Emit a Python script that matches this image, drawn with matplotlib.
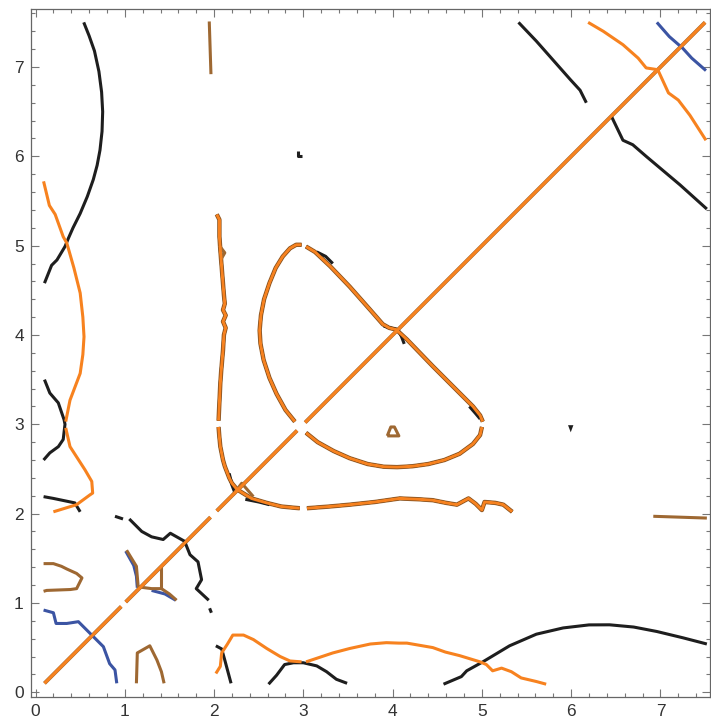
"""
Overlaid contour-like curves, four colours
"""

import numpy as np
import matplotlib.pyplot as plt
from matplotlib.ticker import MultipleLocator

BLACK = "#1e1e1e"
BLUE = "#3b54a3"
BROWN = "#9e6832"
ORANGE = "#f7821f"

# diagonal (all colours coincide, orange on top)
diag_x = [[0.1, 0.96], [1.01, 1.96], [2.03, 2.93], [3.02, 7.5]]
diag_y = [[0.1, 0.96], [1.01, 1.96], [2.03, 2.93], [3.02, 7.5]]

# black curves
black_x = [
    [0.54, 0.6, 0.66, 0.71, 0.74, 0.752, 0.745, 0.722, 0.69, 0.647, 0.58, 0.5, 0.42,
     0.367, 0.33, 0.24, 0.18, 0.1],
    [0.1, 0.16, 0.255, 0.32, 0.33, 0.31, 0.256, 0.16, 0.09],
    [0.09, 0.2, 0.44, 0.5],
    [0.89, 0.98],
    [1.05, 1.19, 1.3, 1.43, 1.51, 1.67, 1.73, 1.82, 1.86, 1.8, 1.94],
    [1.95, 1.97],
    [2.02, 2.085, 2.12, 2.19],
    [2.61, 2.7, 2.79, 2.89, 3.0, 3.15, 3.26, 3.37, 3.49],
    [4.57, 4.77, 4.83, 5.01, 5.31, 5.61, 5.91, 6.2, 6.43, 6.7, 6.96, 7.25, 7.52],
    [5.41, 5.61, 5.99, 6.1, 6.17],
    [6.45, 6.58, 6.69, 6.84, 7.22, 7.52],
    [2.94, 2.94, 2.985],
    [3.15, 3.25, 3.33],
    [3.9, 3.97, 4.06, 4.1, 4.13],
    [4.86, 4.93, 4.98],
    [2.17, 2.2, 2.23],
    [2.35, 2.5, 2.62],
]
black_y = [
    [7.5, 7.35, 7.18, 6.95, 6.72, 6.5, 6.28, 6.07, 5.9, 5.74, 5.55, 5.36, 5.2,
     5.08, 4.99, 4.84, 4.78, 4.58],
    [3.5, 3.35, 3.24, 3.05, 3.0, 2.83, 2.75, 2.68, 2.6],
    [2.19, 2.17, 2.12, 2.02],
    [1.97, 1.94],
    [1.94, 1.8, 1.74, 1.71, 1.78, 1.69, 1.54, 1.46, 1.26, 1.16, 1.03],
    [0.94, 0.89],
    [0.52, 0.485, 0.36, 0.1],
    [0.09, 0.19, 0.31, 0.33, 0.33, 0.295, 0.23, 0.145, 0.1],
    [0.09, 0.175, 0.24, 0.34, 0.52, 0.65, 0.72, 0.754, 0.755, 0.73, 0.68, 0.61, 0.54],
    [7.5, 7.29, 6.86, 6.74, 6.6],
    [6.45, 6.18, 6.13, 6.0, 5.68, 5.41],
    [6.06, 6.0, 6.0],
    [4.93, 4.88, 4.8],
    [4.1, 4.08, 4.06, 3.98, 3.9],
    [3.2, 3.12, 3.06],
    [2.45, 2.32, 2.24],
    [2.16, 2.13, 2.1],
]
tri_x = [5.965, 6.025, 5.995]
tri_y = [2.99, 2.99, 2.91]

# blue curves
blue_x = [
    [0.09, 0.2, 0.23, 0.35, 0.48, 0.57, 0.65, 0.76, 0.83, 0.89, 0.91],
    [6.96, 7.1, 7.25, 7.35, 7.51],
    [1.01, 1.1, 1.13, 1.14],
    [1.3, 1.45, 1.57],
]
blue_y = [
    [0.92, 0.89, 0.77, 0.77, 0.79, 0.7, 0.62, 0.51, 0.32, 0.25, 0.1],
    [7.5, 7.34, 7.21, 7.1, 6.96],
    [1.58, 1.42, 1.3, 1.17],
    [1.14, 1.1, 1.03],
]

# brown curves
brown_x = [
    [1.946, 1.965],
    [6.92, 7.52],
    [0.09, 0.2, 0.29, 0.35, 0.46, 0.52, 0.46, 0.39, 0.125, 0.09],
    [1.13, 1.14, 1.28, 1.36, 1.41, 1.44],
    [1.02, 1.13, 1.15, 1.3, 1.41, 1.5, 1.58],
    [1.41, 1.41],
    [3.94, 4.07, 4.02, 3.98, 3.94],
    [2.21, 2.31, 2.44],
    [2.06, 2.12, 2.08],
]
brown_y = [
    [7.51, 6.92],
    [1.97, 1.95],
    [1.44, 1.44, 1.41, 1.38, 1.33, 1.28, 1.16, 1.15, 1.14, 1.13],
    [0.1, 0.44, 0.52, 0.36, 0.23, 0.1],
    [1.59, 1.41, 1.18, 1.16, 1.16, 1.1, 1.03],
    [1.41, 1.16],
    [2.87, 2.87, 2.97, 2.97, 2.87],
    [2.21, 2.34, 2.19],
    [5.0, 4.92, 4.85],
]

# orange curves
orange_x = [
    [0.09, 0.155, 0.22, 0.31, 0.35, 0.43, 0.5, 0.53, 0.543, 0.53, 0.5, 0.386, 0.338],
    [0.338, 0.386, 0.47, 0.554, 0.63, 0.64, 0.61, 0.46, 0.2],
    [2.02, 2.07, 2.085, 2.15, 2.21, 2.33, 2.44, 2.59, 2.74, 2.85, 2.98],
    [3.03, 3.15, 3.33, 3.52, 3.75, 3.93, 4.07, 4.16, 4.45, 4.59, 4.75, 4.98, 5.05, 5.12,
     5.22, 5.33, 5.44, 5.61, 5.72],
    [6.19, 6.36, 6.58, 6.75, 6.84, 6.97, 7.09, 7.2, 7.33, 7.51],
]
orange_y = [
    [5.72, 5.45, 5.35, 5.1, 5.03, 4.75, 4.47, 4.2, 3.98, 3.78, 3.57, 3.27, 3.03],
    [2.96, 2.75, 2.62, 2.49, 2.36, 2.23, 2.21, 2.1, 2.02],
    [0.21, 0.29, 0.44, 0.54, 0.64, 0.64, 0.59, 0.49, 0.4, 0.35, 0.34],
    [0.34, 0.38, 0.44, 0.49, 0.54, 0.555, 0.55, 0.55, 0.5, 0.45, 0.41, 0.34, 0.31, 0.24,
     0.27, 0.23, 0.16, 0.12, 0.09],
    [7.5, 7.4, 7.25, 7.1, 6.99, 6.97, 6.71, 6.63, 6.46, 6.18],
]

# curves drawn in all colours on top of each other (loop and the x~2 branch)
shared_x = [
    [2.905, 2.8, 2.7, 2.62, 2.555, 2.52, 2.51, 2.525, 2.56, 2.62, 2.69, 2.77, 2.85,
     2.92, 2.98],
    [3.03, 3.13, 3.3, 3.52, 3.75, 3.89, 3.96, 4.04, 4.16, 4.45, 4.75, 4.9, 4.98, 5.01],
    [5.0, 4.98, 4.9, 4.75, 4.58, 4.4, 4.22, 4.05, 3.9, 3.72, 3.52, 3.34, 3.16, 3.03],
    [2.03, 2.06, 2.06, 2.07, 2.09, 2.11, 2.12, 2.1, 2.13, 2.1, 2.13, 2.11, 2.1, 2.08,
     2.07, 2.06, 2.05],
    [2.05, 2.06, 2.07, 2.1, 2.12, 2.17, 2.2, 2.25, 2.29, 2.42, 2.59, 2.75, 2.85, 2.96],
    [3.04, 3.3, 3.52, 3.8, 4.08, 4.3, 4.45, 4.6, 4.72, 4.85, 4.93, 5.0, 5.03, 5.15,
     5.24, 5.34],
]
shared_y = [
    [3.03, 3.16, 3.34, 3.52, 3.72, 3.9, 4.05, 4.22, 4.4, 4.58, 4.75, 4.88, 4.97,
     5.01, 5.01],
    [4.99, 4.93, 4.77, 4.54, 4.28, 4.12, 4.08, 4.06, 3.95, 3.65, 3.35, 3.2, 3.1, 3.03],
    [2.97, 2.88, 2.78, 2.67, 2.6, 2.555, 2.53, 2.52, 2.525, 2.555, 2.62, 2.7, 2.8, 2.905],
    [5.35, 5.29, 5.1, 4.95, 4.7, 4.45, 4.35, 4.28, 4.22, 4.15, 4.08, 4.0, 3.83, 3.6,
     3.46, 3.25, 3.04],
    [2.97, 2.85, 2.75, 2.6, 2.53, 2.4, 2.34, 2.28, 2.25, 2.17, 2.12, 2.08, 2.07, 2.06],
    [2.06, 2.08, 2.1, 2.13, 2.17, 2.16, 2.15, 2.12, 2.1, 2.17, 2.11, 2.04, 2.13, 2.12,
     2.1, 2.02],
]


def draw(ax, xs, ys, color, lw):
    for x, y in zip(xs, ys):
        ax.plot(x, y, color=color, lw=lw, solid_capstyle="butt", solid_joinstyle="round")


plt.rcParams["font.family"] = ["Liberation Sans", "DejaVu Sans"]
fig = plt.figure(figsize=(7.11, 7.23), dpi=100)
ax = fig.add_axes([0.0432, 0.036, 0.956, 0.9516])

# under-layers of shared curves
draw(ax, shared_x, shared_y, BROWN, 3.2)
draw(ax, shared_x, shared_y, BLACK, 2.3)
draw(ax, diag_x, diag_y, BROWN, 2.8)

draw(ax, black_x, black_y, BLACK, 2.2)
ax.fill(tri_x, tri_y, color=BLACK, lw=0)
draw(ax, blue_x, blue_y, BLUE, 2.2)
draw(ax, brown_x, brown_y, BROWN, 2.2)
draw(ax, orange_x, orange_y, ORANGE, 2.2)
draw(ax, shared_x, shared_y, ORANGE, 2.2)
draw(ax, diag_x, diag_y, ORANGE, 2.2)

ax.set_xlim(-0.054, 7.56)
ax.set_ylim(-0.053, 7.65)
ax.xaxis.set_major_locator(MultipleLocator(1))
ax.xaxis.set_minor_locator(MultipleLocator(0.2))
ax.yaxis.set_major_locator(MultipleLocator(1))
ax.yaxis.set_minor_locator(MultipleLocator(0.2))
ax.tick_params(which="both", direction="in", top=True, right=True, color="#777777",
               width=0.8, labelsize=12.5, labelcolor="#333333")
ax.tick_params(which="major", length=5.5, pad=5)
ax.tick_params(which="minor", length=3)
for s in ax.spines.values():
    s.set_color("#666666")
    s.set_linewidth(0.9)

plt.savefig("out.png", dpi=100)
